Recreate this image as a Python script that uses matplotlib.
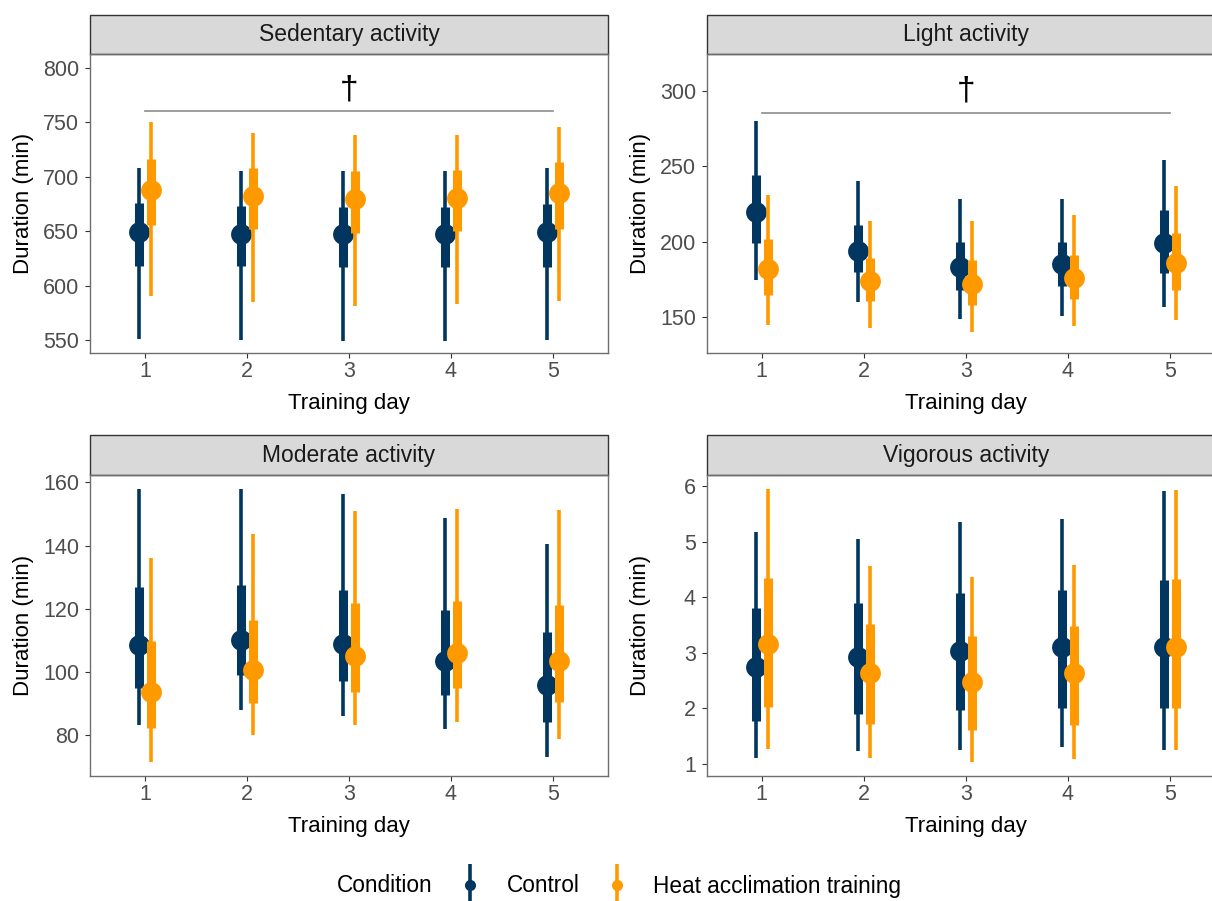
import matplotlib
matplotlib.use("Agg")
import matplotlib.pyplot as plt
from matplotlib.lines import Line2D
from matplotlib.patches import Rectangle
from matplotlib.legend_handler import HandlerTuple
import numpy as np

plt.rcParams["font.family"] = ["Liberation Sans", "DejaVu Sans"]

days = [1, 2, 3, 4, 5]
groups = ["Control", "Heat acclimation training"]
colors = ["#003660", "#FF9900"]

# rows = training day, columns: lower 95%, lower 66%, median, upper 66%, upper 95%
sed_control = [[551, 618, 649, 676, 708],
               [550, 618, 647, 673, 705],
               [549, 617, 647, 672, 705],
               [549, 617, 647, 672, 705],
               [550, 617, 649, 675, 708]]
sed_heat = [[590, 656, 688, 716, 750],
            [585, 652, 682, 708, 740],
            [581, 648, 679, 705, 738],
            [583, 650, 680, 706, 738],
            [586, 652, 685, 713, 746]]

light_control = [[175, 199, 220, 244, 280],
                 [160, 180, 194, 211, 240],
                 [149, 168, 183, 200, 228],
                 [151, 171, 185, 200, 228],
                 [157, 179, 199, 221, 254]]
light_heat = [[145, 165, 182, 202, 231],
              [143, 161, 174, 189, 214],
              [140, 158, 172, 188, 214],
              [144, 162, 176, 191, 218],
              [148, 168, 186, 206, 237]]

mod_control = [[83, 95, 108.4, 127, 158],
               [88, 99, 110.2, 127.5, 158],
               [86, 97, 108.8, 126, 156.4],
               [82, 92.6, 103.5, 119.7, 148.7],
               [73, 84, 95.8, 112.5, 140.4]]
mod_heat = [[71.4, 82.2, 93.7, 109.6, 136],
            [80, 90.2, 100.6, 116.3, 143.6],
            [83, 93.7, 105.1, 121.8, 151],
            [84, 94.8, 105.9, 122.3, 151.6],
            [78.6, 90.5, 103.5, 121.3, 151.4]]

vig_control = [[1.10, 1.76, 2.74, 3.80, 5.17],
               [1.22, 1.89, 2.92, 3.89, 5.06],
               [1.25, 1.96, 3.03, 4.07, 5.36],
               [1.29, 2.01, 3.10, 4.14, 5.41],
               [1.25, 2.00, 3.10, 4.31, 5.92]]
vig_heat = [[1.27, 2.02, 3.15, 4.35, 5.95],
            [1.10, 1.71, 2.63, 3.51, 4.56],
            [1.02, 1.60, 2.47, 3.31, 4.37],
            [1.08, 1.70, 2.63, 3.49, 4.59],
            [1.24, 2.01, 3.11, 4.33, 5.93]]

titles = ["Sedentary activity", "Light activity", "Moderate activity", "Vigorous activity"]
panel_data = [(sed_control, sed_heat), (light_control, light_heat),
              (mod_control, mod_heat), (vig_control, vig_heat)]
yticks = [[550, 600, 650, 700, 750, 800], [150, 200, 250, 300],
          [80, 100, 120, 140, 160], [1, 2, 3, 4, 5, 6]]
ylims = [(538.3, 812.3), (126.6, 324.0), (67.1, 162.2), (0.78, 6.2)]
# significance bar level (None = no bar)
sig_levels = [760.2, 285.4, None, None]
dagger_levels = [779.5, 299.5, None, None]

W, H = 1212, 901
fig = plt.figure(figsize=(W / 100, H / 100), dpi=100)

# panel boxes in pixels: left, right, strip top, panel top, panel bottom
boxes = [(90, 608, 15, 54.3, 352.7),
         (706.7, 1225, 15, 54.3, 352.7),
         (90, 608, 435, 475.4, 775.7),
         (706.7, 1225, 435, 475.4, 775.7)]

dodge = 0.056

for i, (l, r, st, t, b) in enumerate(boxes):
    ax = fig.add_axes([l / W, 1 - b / H, (r - l) / W, (b - t) / H])
    ax.set_xlim(0.46, 5.54)
    ax.set_ylim(*ylims[i])

    for g, (vals, col) in enumerate(zip(panel_data[i], colors)):
        arr = np.array(vals)
        x = np.array(days) + (-dodge if g == 0 else dodge)
        thin = ax.vlines(x, arr[:, 0], arr[:, 4], color=col, lw=2.6, zorder=2 + g * 3)
        thick = ax.vlines(x, arr[:, 1], arr[:, 3], color=col, lw=6.5, zorder=3 + g * 3)
        thin.set_capstyle("butt")
        thick.set_capstyle("butt")
        ax.plot(x, arr[:, 2], "o", color=col, markersize=15, markeredgewidth=0,
                zorder=4 + g * 3)

    if sig_levels[i] is not None:
        ax.plot([1, 5], [sig_levels[i]] * 2, color="#8c8c8c", lw=1.2, zorder=1)
        ax.text(3, dagger_levels[i], "\u2020", ha="center", va="center",
                fontsize=24, color="black")

    ax.set_xticks(days)
    ax.set_yticks(yticks[i])
    ax.tick_params(direction="out", length=3.8, width=0.8, color="#333333",
                   labelcolor="#4D4D4D", labelsize=15.5)
    ax.tick_params(axis="x", pad=2.5)
    ax.tick_params(axis="y", pad=4)
    for sp in ax.spines.values():
        sp.set_color("#6e6e6e")
        sp.set_linewidth(1.0)

    ax.set_xlabel("Training day", fontsize=16, va="center")
    ax.xaxis.set_label_coords(0.5, -51 / (b - t))
    ax.set_ylabel("Duration (min)", fontsize=16, va="center")
    ax.yaxis.set_label_coords(-66 / (r - l), 0.5)

    # facet strip
    sh = (t - st) / (b - t)
    ax.add_patch(Rectangle((0, 1), 1, sh, transform=ax.transAxes, clip_on=False,
                           facecolor="#D9D9D9", edgecolor="#333333", lw=1.0))
    ax.text(0.5, 1 + sh / 2, titles[i], transform=ax.transAxes, ha="center",
            va="center", fontsize=16.5, color="#1A1A1A")

# legend
handles = []
for col in colors:
    stick = Line2D([], [], color=col, marker="|", markersize=30,
                   markeredgewidth=2.6, linestyle="none")
    dot = Line2D([], [], color=col, marker="o", markersize=8,
                 markeredgewidth=0, linestyle="none")
    handles.append((stick, dot))

fig.text(337 / W, 1 - 886 / H, "Condition", fontsize=16.3, ha="left", va="center")
fig.legend(handles, groups, handler_map={tuple: HandlerTuple(ndivide=1)},
           loc="center left", bbox_to_anchor=(459 / W, 1 - 886 / H),
           ncol=2, frameon=False, fontsize=16.3, numpoints=1,
           handlelength=1.0, handletextpad=1.1, columnspacing=1.15,
           borderpad=0, borderaxespad=0)

fig.savefig("out.png", dpi=100)
